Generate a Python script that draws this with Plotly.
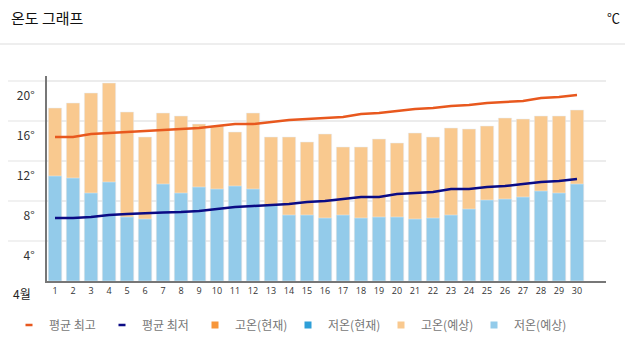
import plotly.graph_objects as go

days = list(range(1, 31))
day_labels = [str(d) for d in days]

fc_high = [17.3, 17.8, 18.8, 19.8, 16.9, 14.4, 16.8, 16.5, 15.7, 15.5,
           14.9, 16.8, 14.4, 14.4, 13.9, 14.7, 13.4, 13.4, 14.2, 13.8,
           14.8, 14.4, 15.3, 15.2, 15.5, 16.3, 16.2, 16.5, 16.5, 17.1]
fc_low = [10.5, 10.3, 8.8, 9.9, 6.4, 6.2, 9.7, 8.8, 9.4, 9.2,
          9.5, 9.2, 7.6, 6.6, 6.6, 6.3, 6.6, 6.3, 6.4, 6.4,
          6.2, 6.3, 6.6, 7.2, 8.1, 8.2, 8.4, 9.0, 8.8, 9.7]
avg_high = [14.4, 14.4, 14.7, 14.8, 14.9, 15.0, 15.1, 15.2, 15.3, 15.5,
            15.7, 15.7, 15.9, 16.1, 16.2, 16.3, 16.4, 16.7, 16.8, 17.0,
            17.2, 17.3, 17.5, 17.6, 17.8, 17.9, 18.0, 18.3, 18.4, 18.6]
avg_low = [6.3, 6.3, 6.4, 6.6, 6.7, 6.8, 6.85, 6.9, 7.0, 7.2,
           7.4, 7.5, 7.6, 7.7, 7.9, 8.0, 8.2, 8.4, 8.4, 8.7,
           8.8, 8.9, 9.2, 9.2, 9.4, 9.5, 9.7, 9.9, 10.0, 10.2]
cur_high = []
cur_low = []
cur_days = []

y_ticks = [4, 8, 12, 16, 20]
y_tick_labels = ["4°", "8°", "12°", "16°", "20°"]

C_AVG_HIGH = "#e8581e"
C_AVG_LOW = "#0b0b85"
C_CUR_HIGH = "#f7963a"
C_CUR_LOW = "#2e9fd8"
C_FC_HIGH = "#f9c98f"
C_FC_LOW = "#93cbea"

FONT = "Noto Sans CJK KR"

fig = go.Figure()

# actual marks
fig.add_trace(go.Bar(x=days, y=fc_high, marker_color=C_FC_HIGH, width=0.74,
                     showlegend=False, hoverinfo="skip"))
fig.add_trace(go.Bar(x=days, y=fc_low, marker_color=C_FC_LOW, width=0.74,
                     showlegend=False, hoverinfo="skip"))
fig.add_trace(go.Bar(x=cur_days, y=cur_high, marker_color=C_CUR_HIGH, width=0.74,
                     showlegend=False))
fig.add_trace(go.Bar(x=cur_days, y=cur_low, marker_color=C_CUR_LOW, width=0.74,
                     showlegend=False))
fig.add_trace(go.Scatter(x=days, y=avg_high, mode="lines",
                         line=dict(color=C_AVG_HIGH, width=2.5), showlegend=False))
fig.add_trace(go.Scatter(x=days, y=avg_low, mode="lines",
                         line=dict(color=C_AVG_LOW, width=2.5), showlegend=False))

# legend entries
legend_items = [
    ("평균 최고", C_AVG_HIGH, "line-ew"),
    ("평균 최저", C_AVG_LOW, "line-ew"),
    ("고온(현재)", C_CUR_HIGH, "square"),
    ("저온(현재)", C_CUR_LOW, "square"),
    ("고온(예상)", C_FC_HIGH, "square"),
    ("저온(예상)", C_FC_LOW, "square"),
]
for name, col, sym in legend_items:
    if sym == "line-ew":
        mk = dict(symbol=sym, size=5, line=dict(color=col, width=2.5), color=col)
    else:
        mk = dict(symbol=sym, size=7, color=col)
    fig.add_trace(go.Scatter(x=[None], y=[None], mode="markers", name=name,
                             marker=mk, showlegend=True))

PL, PR, PT, PB = 47, 19, 76, 70
W, H = 625, 351
pw = W - PL - PR
ph = H - PT - PB

# extend gridlines to the left of the y-axis
shapes = []
for v in y_ticks:
    shapes.append(dict(type="line", xref="paper", yref="y",
                       x0=(8 - PL) / pw, x1=0, y0=v, y1=v,
                       line=dict(color="#ececec", width=1.5), layer="below"))
# header separator
shapes.append(dict(type="line", xref="paper", yref="paper",
                   x0=-PL / pw, x1=(W - PL) / pw,
                   y0=(H - PB - 44) / ph, y1=(H - PB - 44) / ph,
                   line=dict(color="#dddddd", width=1)))

annotations = [
    dict(text="온도 그래프", xref="paper", yref="paper",
         x=(9 - PL) / pw, y=(H - PB - 18) / ph, xanchor="left", yanchor="middle",
         showarrow=False, font=dict(family=FONT, size=15, color="#111")),
    dict(text="℃", xref="paper", yref="paper",
         x=(W - 3 - PL) / pw, y=(H - PB - 18) / ph, xanchor="right", yanchor="middle",
         showarrow=False, font=dict(family=FONT, size=13, color="#111")),
    dict(text="4월", xref="paper", yref="paper",
         x=(22 - PL) / pw, y=-(293 - (H - PB)) / ph, xanchor="center", yanchor="middle",
         showarrow=False, font=dict(family=FONT, size=12, color="#222")),
]

fig.update_layout(
    width=W, height=H,
    margin=dict(l=PL, r=PR, t=PT, b=PB, autoexpand=False),
    paper_bgcolor="white", plot_bgcolor="white",
    barmode="overlay",
    bargap=0.26,
    font=dict(family=FONT, color="#333"),
    shapes=shapes,
    annotations=annotations,
    legend=dict(orientation="h", xref="container", yref="container",
                x=9 / W, xanchor="left",
                y=1 - 325 / H, yanchor="middle",
                font=dict(family=FONT, size=12, color="#777"),
                itemwidth=30, entrywidth=48, tracegroupgap=0),
    xaxis=dict(range=[1 - 8 / 18, 1 - 8 / 18 + pw / 18],
               tickmode="array", tickvals=days, ticktext=day_labels,
               ticks="", showgrid=False, zeroline=False,
               showline=True, linecolor="#777", linewidth=2,
               tickfont=dict(family="Open Sans", size=9, color="#333"),
               fixedrange=True),
    yaxis=dict(range=[0, ph / 10], tickmode="array", tickvals=y_ticks,
               ticktext=y_tick_labels, showgrid=True, gridcolor="#ececec",
               gridwidth=1.5, zeroline=False,
               showline=True, linecolor="#777", linewidth=2,
               ticks="", ticklabelshift=15, ticklabelstandoff=8,
               tickfont=dict(family=FONT, size=12, color="#333"),
               fixedrange=True),
)

fig.write_html("out.html")
